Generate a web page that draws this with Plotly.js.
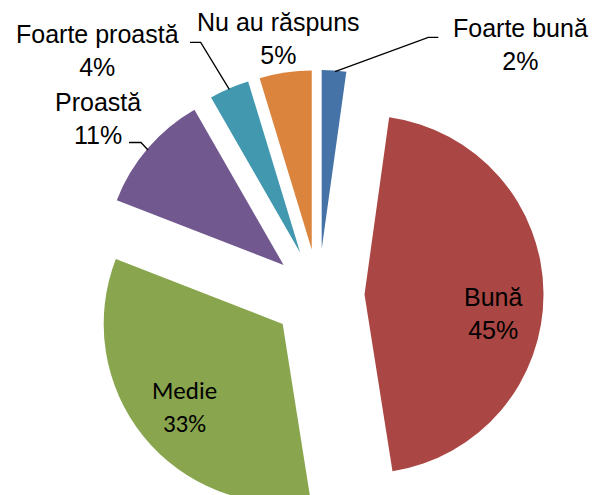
<!DOCTYPE html>
<html>
<head>
<meta charset="utf-8">
<script src="https://cdn.plot.ly/plotly-3.0.1.min.js"></script>
<style>
html, body { margin: 0; padding: 0; overflow: hidden; background: #ffffff; }
#chart { width: 596px; height: 540px; }
</style>
</head>
<body>
<div id="chart"></div>
<script>
// ---- data ----
var labels = ['Foarte bună', 'Bună', 'Medie', 'Proastă', 'Foarte proastă', 'Nu au răspuns'];
var values = [2.2, 45.3, 33.4, 10.8, 3.6, 4.7];
var colors = ['#4572A7', '#AA4643', '#89A54E', '#71588F', '#4198AF', '#DB843D'];

// ---- layout helpers (pixel -> paper) ----
var W = 596, H = 540;
var M = {l: 41, r: 0, t: 70, b: 20};
function px(x) { return (x - M.l) / (W - M.l - M.r); }
function py(y) { return (H - M.b - y) / (H - M.t - M.b); }

var total = values.reduce(function (a, b) { return a + b; }, 0);
var pctText = values.map(function (v) { return Math.round(v / total * 100) + '%'; });

// label block centres (pixels) and fonts
var labelPos = [[520, 44.5], [493, 313], [184, 406.5], [98, 118.7], [97, 50.7], [278, 39]];
var labelFont = ['Liberation Sans, Arial, sans-serif', 'Liberation Sans, Arial, sans-serif',
                 'Carlito, Lato, sans-serif', 'Liberation Sans, Arial, sans-serif',
                 'Liberation Sans, Arial, sans-serif', 'Liberation Sans, Arial, sans-serif'];
var labelSize = [25, 25, 25, 25, 25, 25];

var annotations = labels.map(function (lab, i) {
  return {
    xref: 'paper', yref: 'paper',
    x: px(labelPos[i][0]), y: py(labelPos[i][1]),
    xanchor: 'center', yanchor: 'middle',
    text: lab + '<br>' + pctText[i],
    showarrow: false,
    font: {family: labelFont[i], size: labelSize[i], color: '#000000'}
  };
});

// leader lines (pixels)
var leaders = [
  [[335, 71.7], [428.3, 37.3], [438.3, 37.3]],
  [[190, 42.3], [200.7, 42.3], [229.3, 89.3]],
  [[129, 142.5], [141, 142.5], [148, 150]]
];
var shapes = leaders.map(function (pts) {
  var d = pts.map(function (p, k) { return (k ? 'L' : 'M') + px(p[0]) + ',' + py(p[1]); }).join(' ');
  return {type: 'path', xref: 'paper', yref: 'paper', path: d,
          line: {color: '#000000', width: 1.3}};
});

var trace = {
  type: 'pie',
  labels: labels,
  values: values,
  sort: false,
  direction: 'clockwise',
  rotation: 0,
  pull: labels.map(function () { return 0.257; }),
  marker: {colors: colors, line: {width: 0}},
  textinfo: 'none',
  hoverinfo: 'label+percent',
  showlegend: false
};

var layout = {
  width: W, height: H,
  margin: M,
  paper_bgcolor: '#ffffff',
  plot_bgcolor: '#ffffff',
  showlegend: false,
  annotations: annotations,
  shapes: shapes
};

Plotly.newPlot('chart', [trace], layout, {displayModeBar: false, staticPlot: true});
</script>
</body>
</html>
